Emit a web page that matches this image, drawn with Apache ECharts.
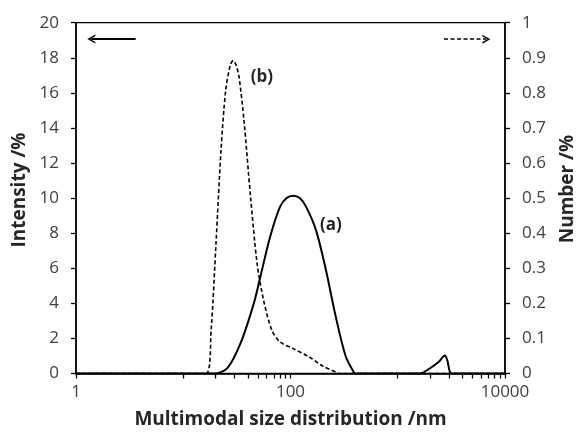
<!DOCTYPE html>
<html>
<head>
<meta charset="utf-8">
<script src="https://cdn.jsdelivr.net/npm/echarts@6/dist/echarts.min.js"></script>
<style>html,body{margin:0;padding:0;background:#fff}#c{width:585px;height:439px}</style>
</head>
<body>
<div id="c"></div>
<script>
// Size (nm) and intensity (%) for curve (a)
const sizeA = [1, 19.5, 25.9, 34.3, 45.5, 52.3, 64.6, 79.8, 92, 106, 122, 140, 173, 214, 264, 327, 389, 403, 1600, 2000, 2400, 2750, 2900, 3200, 10000];
const intensityA = [0, 0, 0.32, 1.74, 4.0, 5.5, 7.8, 9.5, 10.0, 10.13, 10.0, 9.5, 8.16, 5.9, 3.25, 0.98, 0.07, 0, 0, 0.3, 0.65, 1.02, 0.75, 0, 0];
// Size (nm) and number (%) for curve (b)
const sizeB = [1, 16.4, 18.2, 20.2, 22.5, 24.9, 27.5, 29.2, 31, 33.1, 36.8, 42.4, 48.8, 56.1, 66.9, 79.8, 106, 150, 200, 274, 280, 10000];
const numberB = [0, 0, 0.124, 0.371, 0.637, 0.808, 0.88, 0.892, 0.88, 0.846, 0.722, 0.504, 0.314, 0.209, 0.124, 0.090, 0.071, 0.047, 0.021, 0.002, 0, 0];
const xTickLabels = [1, 100, 10000];
const xTickValues = [1, 10, 20, 30, 40, 50, 60, 70, 80, 90, 100, 1000, 2000, 3000, 4000, 5000, 6000, 7000, 8000, 9000, 10000];
const curveLabels = [{name: '(a)', x: 238, y: 8.46}, {name: '(b)', x: 54.2, y: 16.9}];

const chart = echarts.init(document.getElementById('c'), null, {renderer: 'canvas'});
const font = '"Open Sans", "Liberation Sans", sans-serif';
const lblColor = '#404040';
const chevron = 'path://M0,10L5,0L10,10L8.2,10L5,3.6L1.8,10Z';

function pairs(xs, ys) { return xs.map((x, i) => [x, ys[i]]); }

chart.setOption({
  animation: false,
  backgroundColor: '#fff',
  grid: {left: 76, right: 74, top: 22.7, bottom: 65.5, show: true, borderColor: '#000', borderWidth: 1.3},
  xAxis: [{
    type: 'log', logBase: 10, min: 1, max: 10000, interval: 2,
    name: 'Multimodal size distribution /nm', nameLocation: 'middle', nameGap: 37,
    nameTextStyle: {fontFamily: font, fontSize: 19, fontWeight: 'bold', color: '#262626'},
    axisLine: {lineStyle: {color: '#000', width: 1.5}},
    axisTick: {show: true, length: 5, lineStyle: {color: '#000', width: 1.3}, customValues: xTickValues},
    splitLine: {show: false},
    minorTick: {show: false},
    axisLabel: {fontFamily: font, fontSize: 17, color: lblColor, margin: 10,
      formatter: v => xTickLabels.includes(Math.round(v)) ? String(Math.round(v)) : ''}
  }],
  yAxis: [{
    type: 'value', min: 0, max: 20, interval: 2, position: 'left',
    name: 'Intensity /%', nameLocation: 'middle', nameGap: 44, nameRotate: 90,
    nameTextStyle: {fontFamily: font, fontSize: 19, fontWeight: 'bold', color: '#262626', padding: [0, 0, 0, 16]},
    axisLine: {show: true, lineStyle: {color: '#000', width: 1.5}},
    axisTick: {show: true, length: 5, lineStyle: {color: '#000', width: 1.3}},
    splitLine: {show: false},
    axisLabel: {fontFamily: font, fontSize: 17, color: lblColor, margin: 17}
  }, {
    type: 'value', min: 0, max: 1, interval: 0.1, position: 'right',
    name: 'Number /%', nameLocation: 'middle', nameGap: 53, nameRotate: 90,
    nameTextStyle: {fontFamily: font, fontSize: 19, fontWeight: 'bold', color: '#262626', padding: [0, 0, 0, 18]},
    axisLine: {show: true, lineStyle: {color: '#000', width: 1.5}},
    axisTick: {show: true, length: 5, lineStyle: {color: '#000', width: 1.3}},
    splitLine: {show: false},
    axisLabel: {fontFamily: font, fontSize: 17, color: lblColor, margin: 17,
      formatter: v => String(Math.round(v * 10) / 10)}
  }],
  series: [{
    type: 'line', name: 'Intensity', xAxisIndex: 0, yAxisIndex: 0,
    data: pairs(sizeA, intensityA), smooth: 0.3, showSymbol: false, symbol: 'none',
    lineStyle: {color: '#000', width: 2},
    markPoint: {
      symbol: 'circle', symbolSize: 0,
      label: {show: true, fontFamily: font, fontSize: 17, fontWeight: 'bold', color: '#262626', formatter: p => p.name},
      data: curveLabels.map(c => ({name: c.name, coord: [c.x, c.y]}))
    },
    markLine: {
      silent: true, symbol: ['none', chevron], symbolSize: [9, 8],
      lineStyle: {color: '#000', width: 2, type: 'solid'}, label: {show: false},
      data: [[{coord: [3.6, 19.07]}, {coord: [1.39, 19.07]}]]
    }
  }, {
    type: 'line', name: 'Number', xAxisIndex: 0, yAxisIndex: 1,
    data: pairs(sizeB, numberB), smooth: 0.3, showSymbol: false, symbol: 'none',
    lineStyle: {color: '#000', width: 1.6, type: [4, 2.5]},
    markLine: {
      silent: true, symbol: ['none', chevron], symbolSize: [9, 8],
      lineStyle: {color: '#000', width: 1.6, type: [4, 2.5]}, label: {show: false},
      data: [[{coord: [2700, 0.953]}, {coord: [6700, 0.953]}]]
    }
  }]
});
</script>
</body>
</html>
